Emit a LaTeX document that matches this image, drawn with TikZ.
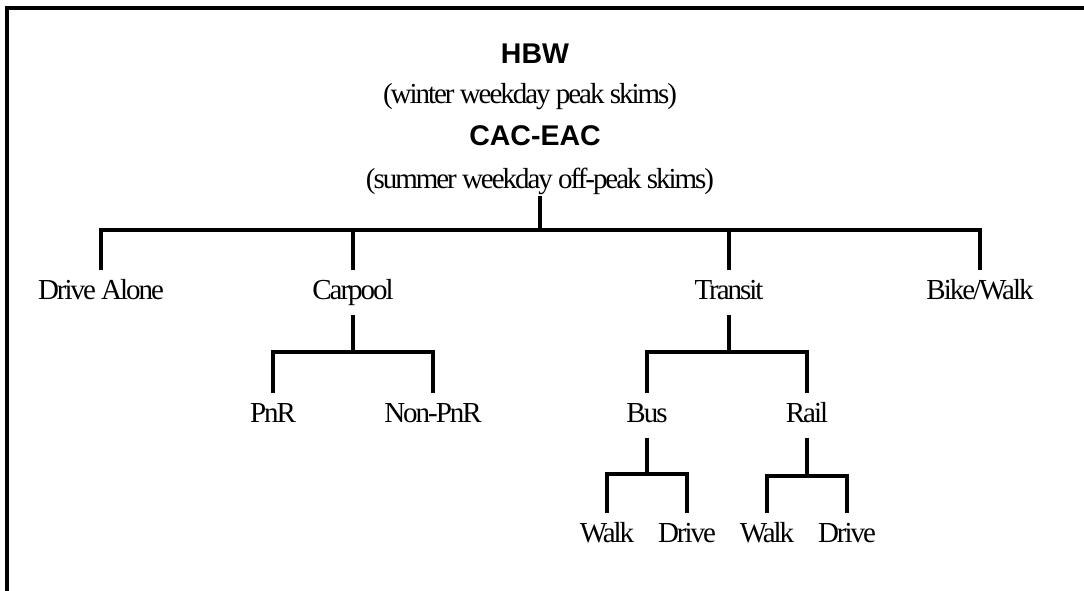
\documentclass[tikz,border=0pt]{standalone}
\usepackage{fontspec}
\setmainfont{Liberation Serif}[LetterSpace=-7]
\newfontfamily\headfont{Liberation Sans}
\begin{document}
\begin{tikzpicture}[x=1pt,y=-1pt,
  lbl/.style={font=\fontsize{29}{34}\selectfont, anchor=base, inner xsep=0pt,
              inner ysep=9pt, text height=20pt, text depth=7pt},
  head/.style={font=\headfont\bfseries\fontsize{28.5}{32}\selectfont, anchor=base, inner sep=0pt},
  note/.style={font=\fontsize{29}{34}\selectfont, anchor=base, inner sep=0pt},
  link/.style={line width=3.4pt},
  light/.style={line width=3.4pt},
  heavy/.style={line width=4.4pt},
  frame/.style={line width=3.4pt}
]
\useasboundingbox (0,0) rectangle (1084,590);

% page frame (top and left edges)
\draw[frame] (1090,8) -- (7,8) -- (7,596);

% title block
\node[head] (hbw) at (535,63) {HBW};
\node[note] (winter) at (530,103) {(winter weekday peak skims)};
\node[head] (cac) at (535,145) {CAC-EAC};
\node[note, inner ysep=1pt, text depth=7pt] (summer) at (540,188) {(summer weekday off-peak skims)};

% first level
\node[lbl] (da) at (101,299) {Drive Alone};
\node[lbl] (cp) at (353,299) {Carpool};
\node[lbl] (tr) at (729,299) {Transit};
\node[lbl] (bw) at (980,299) {Bike/Walk};

% second level
\node[lbl] (pnr)  at (273,422) {PnR};
\node[lbl] (npnr) at (433,422) {Non-PnR};
\node[lbl] (bus)  at (647,422) {Bus};
\node[lbl] (rail) at (807,422) {Rail};

% third level
\node[lbl] (busw) at (607,542) {Walk};
\node[lbl] (busd) at (687,542) {Drive};
\node[lbl] (railw) at (767,542) {Walk};
\node[lbl] (raild) at (847,542) {Drive};

% junctions on the horizontal bars
\coordinate (j0) at (540,230);
\coordinate (j1) at (353,352);
\coordinate (j2) at (729,352);
\coordinate (j3) at (647,474);
\coordinate (j4) at (807,476);

% root
\draw[link] (summer.south) -- (j0);
\draw[heavy] (j0) -| (da.north);
\draw[link]  (j0) -| (da.north);
\draw[heavy] (j0) -| (bw.north);
\draw[link]  (j0) -| (bw.north);
\draw[link]  (j0) -| (cp.north);
\draw[link]  (j0) -| (tr.north);

% carpool
\draw[link]  (cp.south) -- (j1);
\draw[light] (j1) -| (pnr.north);
\draw[heavy] (j1) -| (npnr.north);

% transit
\draw[link]  (tr.south) -- (j2);
\draw[heavy] (j2) -| (bus.north);
\draw[link]  (j2) -| (rail.north);

% bus
\draw[link]  (bus.south) -- (j3);
\draw[light] (j3) -| (busw.north);
\draw[light] (j3) -| (busd.north);

% rail
\draw[link]  (rail.south) -- (j4);
\draw[heavy] (j4) -| (railw.north);
\draw[heavy] (j4) -| (raild.north);
\end{tikzpicture}
\end{document}
